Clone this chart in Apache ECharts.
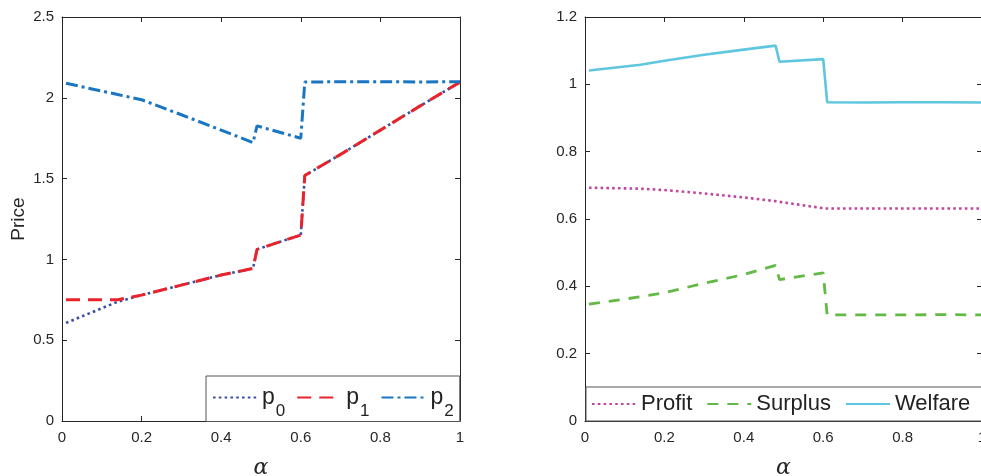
<!DOCTYPE html>
<html>
<head>
<meta charset="utf-8">
<script src="https://cdn.jsdelivr.net/npm/echarts@6/dist/echarts.min.js"></script>
<style>
html,body{margin:0;padding:0;background:#fff;overflow:hidden;}
#chart{width:981px;height:476px;}
</style>
</head>
<body>
<div id="chart"></div>
<script>
// ---- data ----
const alpha = [0.01, 0.14, 0.2, 0.3, 0.4, 0.48, 0.49, 0.6, 0.61, 0.7, 0.8, 0.9, 1.0];
const p0 = [0.607, 0.738, 0.779, 0.841, 0.903, 0.944, 1.062, 1.151, 1.519, 1.65, 1.80, 1.95, 2.097];
const p1 = [0.750, 0.750, 0.779, 0.841, 0.903, 0.944, 1.062, 1.151, 1.519, 1.65, 1.80, 1.95, 2.097];
const p2 = [2.090, 2.020, 1.988, 1.895, 1.800, 1.723, 1.826, 1.750, 2.097, 2.100, 2.100, 2.098, 2.100];
const profit  = [0.693, 0.690, 0.686, 0.676, 0.664, 0.653, 0.651, 0.632, 0.631, 0.631, 0.631, 0.631, 0.631];
const surplus = [0.347, 0.369, 0.381, 0.409, 0.435, 0.462, 0.420, 0.440, 0.315, 0.315, 0.315, 0.316, 0.315];
const welfare = [1.041, 1.058, 1.070, 1.088, 1.103, 1.115, 1.067, 1.075, 0.947, 0.946, 0.947, 0.947, 0.946];
const xTicks = [0, 0.2, 0.4, 0.6, 0.8, 1];
const priceTicks = [0, 0.5, 1, 1.5, 2, 2.5];
const rightTicks = [0, 0.2, 0.4, 0.6, 0.8, 1, 1.2];

const pair = (xs, ys) => xs.map((x, i) => [x, ys[i]]);
const FONT = 'Liberation Sans';
const AX = '#262626';

function xAx(gi, pos) {
  const bottom = pos === 'bottom';
  return {
    type: 'value', gridIndex: gi, position: pos, min: 0, max: 1, interval: 0.2,
    axisLine: {show: true, onZero: false, lineStyle: {color: AX, width: 1}},
    axisTick: {show: true, inside: true, length: 5, lineStyle: {color: AX}},
    axisLabel: {show: bottom, margin: 9, color: AX, fontFamily: FONT, fontSize: 15},
    splitLine: {show: false},
    name: bottom ? 'α' : '', nameLocation: 'middle', nameGap: 36,
    nameTextStyle: {fontFamily: 'DejaVu Serif', fontStyle: 'italic', fontSize: 22, color: AX}
  };
}
function yAx(gi, pos, max, interval, name) {
  const left = pos === 'left';
  return {
    type: 'value', gridIndex: gi, position: pos, min: 0, max: max, interval: interval,
    axisLine: {show: true, onZero: false, lineStyle: {color: AX, width: 1}},
    axisTick: {show: true, inside: true, length: 5, lineStyle: {color: AX}},
    axisLabel: {show: left, margin: 8, color: AX, fontFamily: FONT, fontSize: 15},
    splitLine: {show: false},
    name: (left && name) ? name : '', nameLocation: 'middle', nameGap: 34, nameRotate: 90,
    nameTextStyle: {fontFamily: FONT, fontSize: 19, color: AX}
  };
}

function line(name, data, xi, yi, color, type, width) {
  return {
    name: name, type: 'line', xAxisIndex: xi, yAxisIndex: yi, data: data,
    showSymbol: false, symbol: 'none', animation: false,
    lineStyle: {color: color, type: type, width: width, cap: 'butt'},
    itemStyle: {color: color}
  };
}

const DOT = [2.6, 3.2];
const chart = echarts.init(document.getElementById('chart'), null, {renderer: 'canvas'});
chart.setOption({
  backgroundColor: '#fff',
  animation: false,
  grid: [
    {left: 62, top: 17, width: 398, height: 404, outerBoundsMode: 'none', containLabel: false},
    {left: 585, top: 17, width: 397, height: 404, outerBoundsMode: 'none', containLabel: false}
  ],
  xAxis: [xAx(0, 'bottom'), xAx(0, 'top'), xAx(1, 'bottom'), xAx(1, 'top')],
  yAxis: [yAx(0, 'left', 2.5, 0.5, 'Price'), yAx(0, 'right', 2.5, 0.5), yAx(1, 'left', 1.2, 0.2), yAx(1, 'right', 1.2, 0.2)],
  legend: [
    {
      data: ['p0', 'p1', 'p2'], left: 206, top: 376, orient: 'horizontal',
      itemWidth: 44, itemHeight: 14, itemGap: 11,
      padding: [10, 6, 2, 6],
      itemStyle: {opacity: 0},
      backgroundColor: '#fff', borderColor: '#555', borderWidth: 1, borderRadius: 0,
      formatter: n => '{p|p}{s|' + n.slice(1) + '}',
      textStyle: {
        color: '#222', fontFamily: FONT,
        rich: {
          p: {fontSize: 23, fontFamily: FONT, color: '#222', lineHeight: 44, verticalAlign: 'middle'},
          s: {fontSize: 17, fontFamily: FONT, color: '#222', lineHeight: 18, verticalAlign: 'bottom', padding: [0, 0, 0, 1]}
        }
      }
    },
    {
      data: ['Profit', 'Surplus', 'Welfare'], left: 586, top: 387, orient: 'horizontal',
      width: 440,
      itemWidth: 44, itemHeight: 14, itemGap: 14,
      padding: [4, 12, 4, 5],
      itemStyle: {opacity: 0},
      backgroundColor: '#fff', borderColor: '#555', borderWidth: 1, borderRadius: 0,
      textStyle: {color: '#222', fontFamily: FONT, fontSize: 22, lineHeight: 26}
    }
  ],
  series: [
    line('p0', pair(alpha, p0), 0, 0, '#3a4fa3', DOT, 2.6),
    line('p1', pair(alpha, p1), 0, 0, '#e8232b', [14, 8], 3),
    line('p2', pair(alpha, p2), 0, 0, '#1a76c0', [12, 4, 3, 4], 3),
    line('Profit', pair(alpha, profit), 2, 2, '#bf46a0', DOT, 2.6),
    line('Surplus', pair(alpha, surplus), 2, 2, '#62b946', [11, 9], 2.8),
    line('Welfare', pair(alpha, welfare), 2, 2, '#5ec6df', 'solid', 2.6)
  ]
});
</script>
</body>
</html>
